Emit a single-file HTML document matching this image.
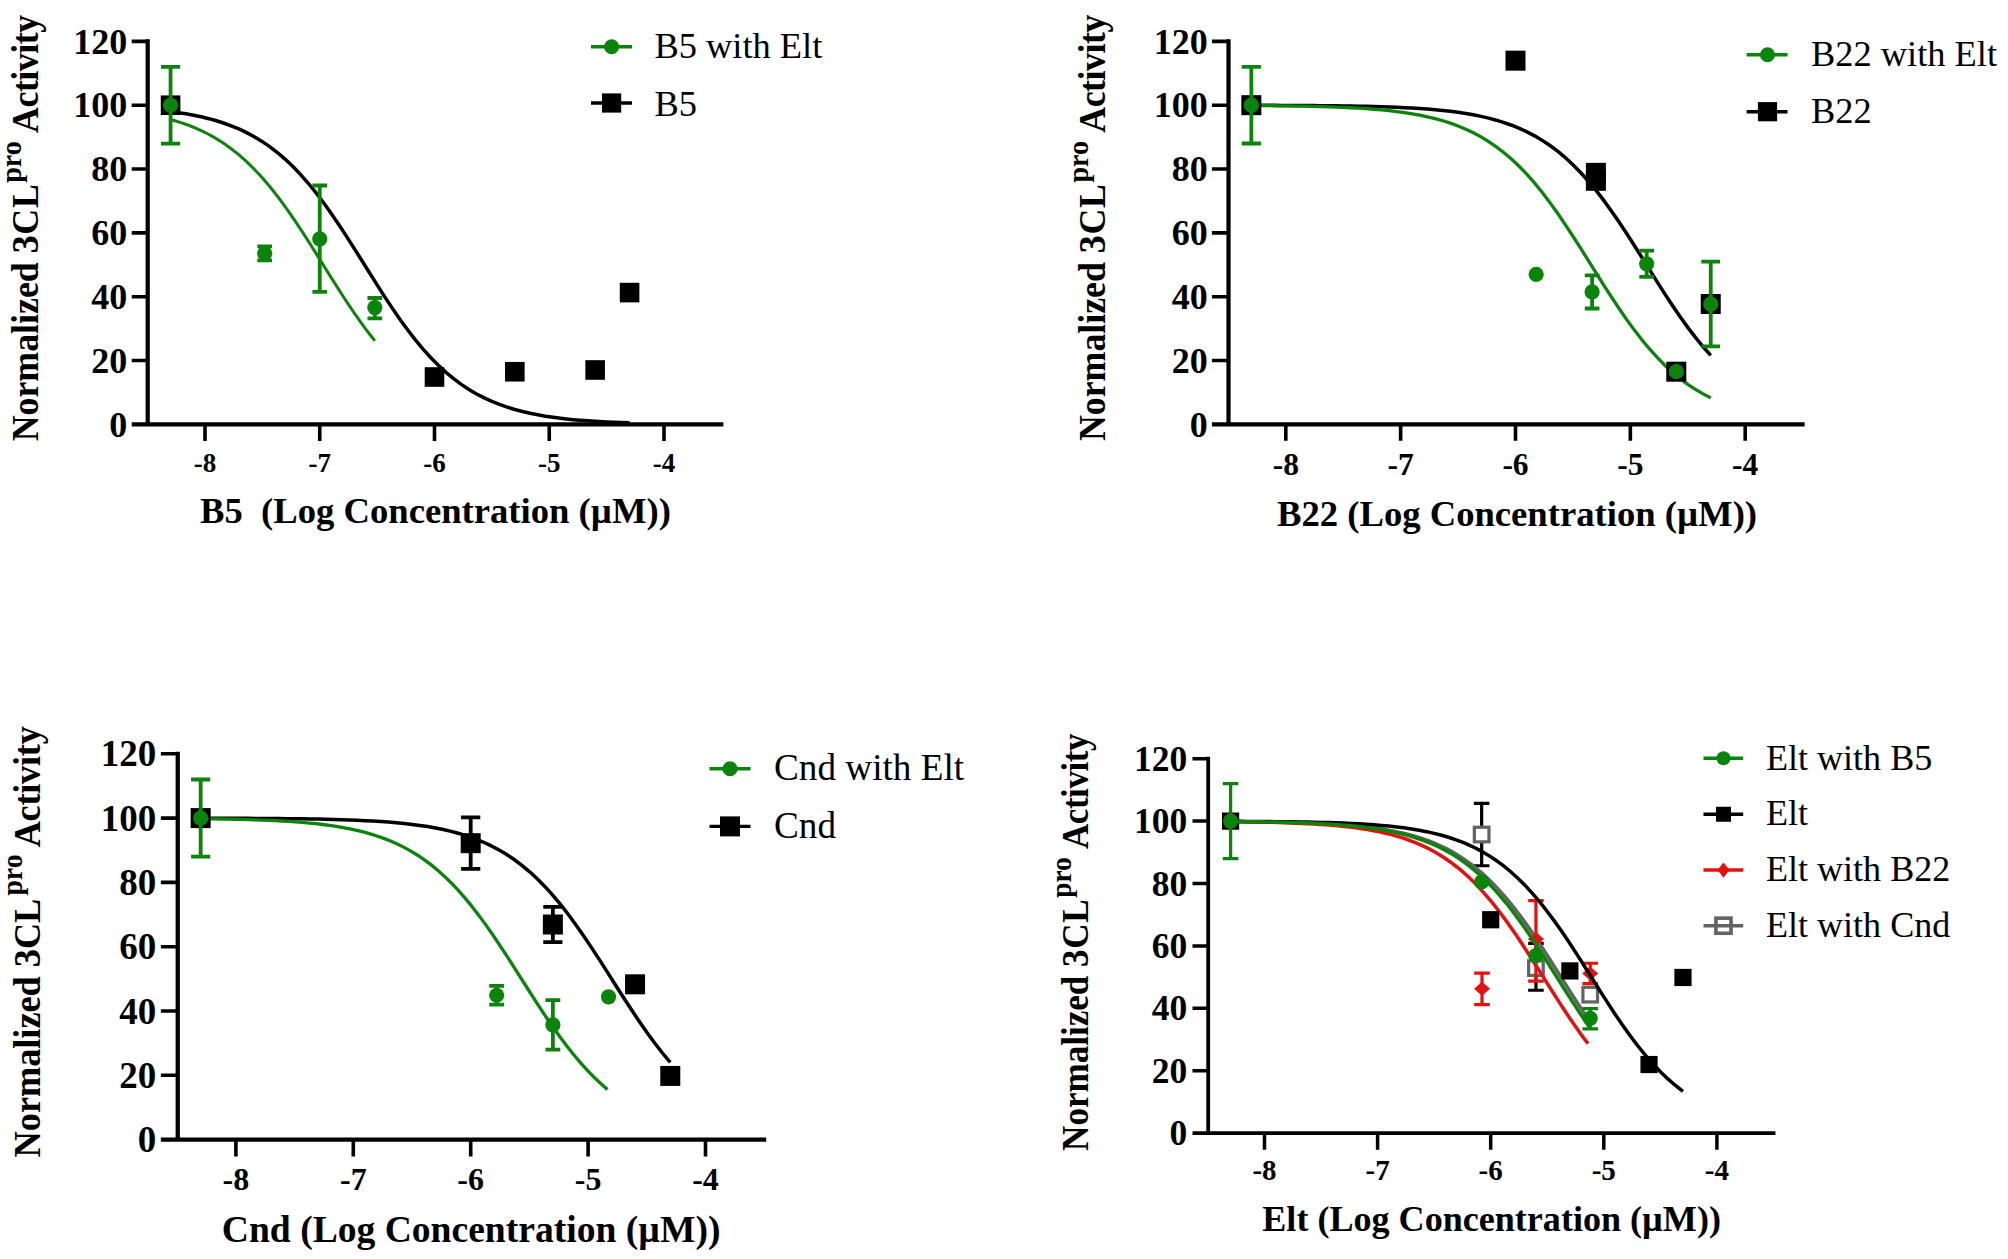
<!DOCTYPE html>
<html lang="en"><head><meta charset="utf-8"><title>3CLpro activity dose-response curves</title>
<style>html,body{margin:0;padding:0;background:#fff}svg{display:block}text{font-family:"Liberation Serif","Times New Roman",serif;fill:#000;white-space:pre}</style></head><body>
<svg width="2008" height="1259" viewBox="0 0 2008 1259">
<rect width="2008" height="1259" fill="#fff"/>
<g>
<path d="M147.7 39.3V426.5M131.7 424.4H723.38" stroke="#000" stroke-width="4.2" fill="none"/>
<path d="M131.7 360.57H147.7M131.7 296.73H147.7M131.7 232.9H147.7M131.7 169.06H147.7M131.7 105.23H147.7M131.7 41.4H147.7M205 424.4V440.9M319.75 424.4V440.9M434.5 424.4V440.9M549.25 424.4V440.9M664 424.4V440.9" stroke="#000" stroke-width="3.6" fill="none"/>
<g font-weight="bold" font-size="36" text-anchor="end">
<text x="127.3" y="436.57">0</text>
<text x="127.3" y="372.73">20</text>
<text x="127.3" y="308.9">40</text>
<text x="127.3" y="245.07">60</text>
<text x="127.3" y="181.23">80</text>
<text x="127.3" y="117.4">100</text>
<text x="127.3" y="53.56">120</text>
</g>
<g font-weight="bold" font-size="27" text-anchor="middle">
<text x="205" y="471.5">-8</text>
<text x="319.75" y="471.5">-7</text>
<text x="434.5" y="471.5">-6</text>
<text x="549.25" y="471.5">-5</text>
<text x="664" y="471.5">-4</text>
</g>
<text x="200" y="522.6" font-weight="bold" font-size="36.65" xml:space="preserve">B5  (Log Concentration (µM))</text>
<text transform="translate(38.2 441.3) rotate(-90) scale(0.9475 1)" font-weight="bold" font-size="37.8" xml:space="preserve">Normalized <tspan letter-spacing="0.8">3CL</tspan><tspan font-size="29.5" dx="0.8" dy="-17.2">pro</tspan><tspan dx="2" dy="17.2" letter-spacing="-0.5"> Activity</tspan></text>
<path d="M170.57 111.62L178.22 112.65L185.87 113.85L193.52 115.23L201.18 116.83L208.82 118.68L216.47 120.8L224.12 123.24L231.77 126.03L239.42 129.22L247.07 132.86L254.72 136.99L262.38 141.65L270.02 146.91L277.67 152.79L285.32 159.35L292.97 166.6L300.62 174.57L308.27 183.26L315.92 192.66L323.57 202.74L331.22 213.43L338.87 224.66L346.52 236.34L354.17 248.34L361.82 260.53L369.48 272.77L377.12 284.92L384.77 296.83L392.42 308.39L400.07 319.47L407.73 329.98L415.38 339.86L423.03 349.05L430.68 357.53L438.32 365.28L445.97 372.32L453.62 378.67L461.27 384.36L468.92 389.44L476.57 393.94L484.23 397.91L491.88 401.41L499.52 404.48L507.17 407.16L514.82 409.5L522.47 411.53L530.12 413.3L537.78 414.83L545.42 416.16L553.08 417.31L560.72 418.3L568.38 419.15L576.03 419.89L583.68 420.52L591.33 421.07L598.98 421.54L606.62 421.94L614.27 422.29L621.93 422.59L629.58 422.84" stroke="#000" stroke-width="3.5" fill="none" stroke-linecap="butt"/>
<path d="M170.57 119.49L173.98 120.45L177.38 121.47L180.79 122.56L184.19 123.71L187.6 124.94L191 126.24L194.4 127.62L197.81 129.09L201.21 130.64L204.62 132.28L208.02 134.02L211.43 135.86L214.83 137.81L218.23 139.86L221.64 142.03L225.04 144.31L228.45 146.71L231.85 149.24L235.26 151.9L238.66 154.69L242.06 157.61L245.47 160.67L248.87 163.87L252.28 167.21L255.68 170.69L259.09 174.32L262.49 178.09L265.89 182L269.3 186.05L272.7 190.25L276.11 194.57L279.51 199.03L282.92 203.62L286.32 208.33L289.72 213.15L293.13 218.09L296.53 223.12L299.94 228.24L303.34 233.44L306.75 238.72L310.15 244.05L313.55 249.43L316.96 254.85L320.36 260.28L323.77 265.73L327.17 271.18L330.57 276.61L333.98 282.02L337.38 287.38L340.79 292.7L344.19 297.95L347.6 303.13L351 308.22L354.4 313.22L357.81 318.11L361.21 322.9L364.62 327.57L368.02 332.11L371.43 336.53L374.83 340.81" stroke="#0b840b" stroke-width="3.0" fill="none" stroke-linecap="butt"/>
<rect x="160.77" y="95.43" width="19.6" height="19.6" fill="#000"/>
<rect x="424.7" y="367.2" width="19.6" height="19.6" fill="#000"/>
<rect x="505.03" y="361.94" width="19.6" height="19.6" fill="#000"/>
<rect x="585.35" y="360.18" width="19.6" height="19.6" fill="#000"/>
<rect x="619.78" y="282.78" width="19.6" height="19.6" fill="#000"/>
<path d="M170.57 66.93V143.53M160.97 66.93h19.2M160.97 143.53h19.2" stroke="#0b840b" stroke-width="3.8" fill="none"/>
<circle cx="170.57" cy="105.23" r="7.6" fill="#0b840b"/>
<path d="M264.67 246.3V260.35M257.32 246.3h14.7M257.32 260.35h14.7" stroke="#0b840b" stroke-width="3.8" fill="none"/>
<circle cx="264.67" cy="253.32" r="7.6" fill="#0b840b"/>
<path d="M319.75 185.5V291.78M312.4 185.5h14.7M312.4 291.78h14.7" stroke="#0b840b" stroke-width="3.8" fill="none"/>
<circle cx="319.75" cy="238.8" r="7.6" fill="#0b840b"/>
<path d="M374.83 298.01V318.44M367.48 298.01h14.7M367.48 318.44h14.7" stroke="#0b840b" stroke-width="3.8" fill="none"/>
<circle cx="374.83" cy="307.58" r="7.6" fill="#0b840b"/>
<path d="M591 46.75H632" stroke="#0b840b" stroke-width="3.4"/>
<circle cx="611.6" cy="46.75" r="7.5" fill="#0b840b"/>
<text x="654.5" y="58" font-size="36.4">B5 with Elt</text>
<path d="M591 103H632" stroke="#000" stroke-width="3.4"/>
<rect x="602" y="93.4" width="19.2" height="19.2" fill="#000"/>
<text x="654.5" y="115.5" font-size="36.4">B5</text>
</g>
<g>
<path d="M1228.5 39.25V426.45M1211.9 424.35H1804.62" stroke="#000" stroke-width="4.2" fill="none"/>
<path d="M1211.9 360.52H1228.5M1211.9 296.68H1228.5M1211.9 232.85H1228.5M1211.9 169.01H1228.5M1211.9 105.18H1228.5M1211.9 41.35H1228.5M1285.8 424.35V440.85M1400.65 424.35V440.85M1515.5 424.35V440.85M1630.35 424.35V440.85M1745.2 424.35V440.85" stroke="#000" stroke-width="3.6" fill="none"/>
<g font-weight="bold" font-size="36" text-anchor="end">
<text x="1207.8" y="436.52">0</text>
<text x="1207.8" y="372.68">20</text>
<text x="1207.8" y="308.85">40</text>
<text x="1207.8" y="245.02">60</text>
<text x="1207.8" y="181.18">80</text>
<text x="1207.8" y="117.35">100</text>
<text x="1207.8" y="53.51">120</text>
</g>
<g font-weight="bold" font-size="31.5" text-anchor="middle">
<text x="1285.8" y="475">-8</text>
<text x="1400.65" y="475">-7</text>
<text x="1515.5" y="475">-6</text>
<text x="1630.35" y="475">-5</text>
<text x="1745.2" y="475">-4</text>
</g>
<text x="1277" y="526.2" font-weight="bold" font-size="36.65" xml:space="preserve">B22 (Log Concentration (µM))</text>
<text transform="translate(1104.7 441.1) rotate(-90) scale(0.9475 1)" font-weight="bold" font-size="37.8" xml:space="preserve">Normalized <tspan letter-spacing="0.8">3CL</tspan><tspan font-size="29.5" dx="0.8" dy="-17.2">pro</tspan><tspan dx="2" dy="17.2" letter-spacing="-0.5"> Activity</tspan></text>
<path d="M1251.34 105.3L1259 105.32L1266.66 105.34L1274.31 105.36L1281.97 105.39L1289.63 105.43L1297.28 105.47L1304.94 105.52L1312.6 105.58L1320.25 105.64L1327.91 105.72L1335.57 105.81L1343.22 105.91L1350.88 106.03L1358.54 106.17L1366.19 106.33L1373.85 106.53L1381.51 106.75L1389.16 107.01L1396.82 107.31L1404.48 107.66L1412.13 108.06L1419.79 108.54L1427.45 109.09L1435.11 109.73L1442.76 110.47L1450.42 111.33L1458.07 112.33L1465.73 113.48L1473.39 114.82L1481.04 116.36L1488.7 118.14L1496.36 120.19L1504.01 122.55L1511.67 125.25L1519.33 128.34L1526.98 131.86L1534.64 135.86L1542.3 140.38L1549.95 145.49L1557.61 151.21L1565.27 157.59L1572.92 164.67L1580.58 172.46L1588.24 180.97L1595.89 190.2L1603.55 200.11L1611.21 210.65L1618.87 221.76L1626.52 233.33L1634.18 245.27L1641.84 257.42L1649.49 269.66L1657.15 281.85L1664.81 293.83L1672.46 305.49L1680.12 316.7L1687.77 327.36L1695.43 337.41L1703.09 346.77L1710.74 355.43" stroke="#000" stroke-width="3.5" fill="none" stroke-linecap="butt"/>
<path d="M1251.34 105.53L1259 105.59L1266.66 105.66L1274.31 105.74L1281.97 105.83L1289.63 105.94L1297.28 106.06L1304.94 106.21L1312.6 106.38L1320.25 106.58L1327.91 106.81L1335.57 107.08L1343.22 107.39L1350.88 107.75L1358.54 108.17L1366.19 108.67L1373.85 109.24L1381.51 109.9L1389.16 110.67L1396.82 111.56L1404.48 112.6L1412.13 113.79L1419.79 115.18L1427.45 116.78L1435.11 118.62L1442.76 120.74L1450.42 123.18L1458.07 125.97L1465.73 129.16L1473.39 132.79L1481.04 136.92L1488.7 141.58L1496.36 146.83L1504.01 152.71L1511.67 159.26L1519.33 166.51L1526.98 174.48L1534.64 183.17L1542.3 192.56L1549.95 202.63L1557.61 213.32L1565.27 224.56L1572.92 236.23L1580.58 248.23L1588.24 260.42L1595.89 272.66L1603.55 284.81L1611.21 296.72L1618.87 308.28L1626.52 319.37L1634.18 329.88L1641.84 339.76L1649.49 348.96L1657.15 357.44L1664.81 365.19L1672.46 372.24L1680.12 378.59L1687.77 384.28L1695.43 389.36L1703.09 393.86L1710.74 397.84" stroke="#0b840b" stroke-width="3.3" fill="none" stroke-linecap="butt"/>
<rect x="1241.34" y="95.18" width="20" height="20" fill="#000"/>
<rect x="1505.5" y="50.66" width="20" height="20" fill="#000"/>
<rect x="1585.89" y="162.84" width="20" height="20" fill="#000"/>
<rect x="1585.89" y="170.82" width="20" height="20" fill="#000"/>
<rect x="1666.29" y="361.69" width="20" height="20" fill="#000"/>
<rect x="1700.74" y="294.02" width="20" height="20" fill="#000"/>
<path d="M1251.34 66.88V143.48M1241.74 66.88h19.2M1241.74 143.48h19.2" stroke="#0b840b" stroke-width="3.8" fill="none"/>
<circle cx="1251.34" cy="105.18" r="7.6" fill="#0b840b"/>
<circle cx="1536.17" cy="274.34" r="7.6" fill="#0b840b"/>
<path d="M1592.1 275.3V308.49M1584.75 275.3h14.7M1584.75 308.49h14.7" stroke="#0b840b" stroke-width="3.8" fill="none"/>
<circle cx="1592.1" cy="291.89" r="7.6" fill="#0b840b"/>
<path d="M1646.66 250.72V276.89M1639.31 250.72h14.7M1639.31 276.89h14.7" stroke="#0b840b" stroke-width="3.8" fill="none"/>
<circle cx="1646.66" cy="263.81" r="7.6" fill="#0b840b"/>
<circle cx="1676.29" cy="371.69" r="7.6" fill="#0b840b"/>
<path d="M1710.74 261.57V346.47M1701.34 261.57h18.8M1701.34 346.47h18.8" stroke="#0b840b" stroke-width="3.8" fill="none"/>
<circle cx="1710.74" cy="304.02" r="7.6" fill="#0b840b"/>
<path d="M1746.6 54.7H1787.5" stroke="#0b840b" stroke-width="3.4"/>
<circle cx="1767.5" cy="54.7" r="7.5" fill="#0b840b"/>
<text x="1811" y="65.7" font-size="36.4">B22 with Elt</text>
<path d="M1746.6 111.7H1787.5" stroke="#000" stroke-width="3.4"/>
<rect x="1757.9" y="102.1" width="19.2" height="19.2" fill="#000"/>
<text x="1811" y="123" font-size="36.4">B22</text>
</g>
<g>
<path d="M177.75 751.65V1141.75M160.85 1139.6H766.2" stroke="#000" stroke-width="4.3" fill="none"/>
<path d="M160.85 1075.3H177.75M160.85 1011H177.75M160.85 946.7H177.75M160.85 882.4H177.75M160.85 818.1H177.75M160.85 753.8H177.75M235.9 1139.6V1156.6M353.3 1139.6V1156.6M470.7 1139.6V1156.6M588.1 1139.6V1156.6M705.5 1139.6V1156.6" stroke="#000" stroke-width="3.6" fill="none"/>
<g font-weight="bold" font-size="37" text-anchor="end">
<text x="156.2" y="1152.11">0</text>
<text x="156.2" y="1087.81">20</text>
<text x="156.2" y="1023.51">40</text>
<text x="156.2" y="959.21">60</text>
<text x="156.2" y="894.91">80</text>
<text x="156.2" y="830.61">100</text>
<text x="156.2" y="766.31">120</text>
</g>
<g font-weight="bold" font-size="32" text-anchor="middle">
<text x="235.9" y="1189.5">-8</text>
<text x="353.3" y="1189.5">-7</text>
<text x="470.7" y="1189.5">-6</text>
<text x="588.1" y="1189.5">-5</text>
<text x="705.5" y="1189.5">-4</text>
</g>
<text x="221.8" y="1241.8" font-weight="bold" font-size="37.6" xml:space="preserve">Cnd (Log Concentration (µM))</text>
<text transform="translate(39.6 1157.4) rotate(-90) scale(0.9415 1)" font-weight="bold" font-size="38.5" xml:space="preserve">Normalized <tspan letter-spacing="0">3CL</tspan><tspan font-size="29.5" dx="3.4" dy="-17.2">pro</tspan><tspan dx="0.3" dy="17.2" letter-spacing="-0.25"> Activity</tspan></text>
<path d="M200.68 818.2L208.51 818.22L216.33 818.24L224.16 818.26L231.99 818.29L239.81 818.32L247.64 818.36L255.47 818.4L263.29 818.45L271.12 818.5L278.95 818.57L286.77 818.65L294.6 818.74L302.43 818.85L310.25 818.97L318.08 819.11L325.91 819.28L333.73 819.48L341.56 819.7L349.39 819.97L357.21 820.28L365.04 820.63L372.87 821.05L380.69 821.53L388.52 822.1L396.35 822.75L404.17 823.51L412 824.39L419.83 825.41L427.65 826.59L435.48 827.96L443.31 829.53L451.13 831.35L458.96 833.44L466.79 835.85L474.61 838.61L482.44 841.76L490.27 845.35L498.09 849.43L505.92 854.05L513.75 859.25L521.57 865.08L529.4 871.58L537.23 878.78L545.05 886.69L552.88 895.34L560.71 904.7L568.53 914.75L576.36 925.44L584.19 936.68L592.01 948.38L599.84 960.42L607.67 972.68L615.49 985.02L623.32 997.28L631.15 1009.32L638.97 1021.02L646.8 1032.26L654.63 1042.95L662.45 1053L670.28 1062.36" stroke="#000" stroke-width="3.5" fill="none" stroke-linecap="butt"/>
<path d="M200.68 818.69L207.46 818.78L214.24 818.88L221.02 818.99L227.8 819.11L234.58 819.25L241.36 819.42L248.14 819.6L254.92 819.82L261.7 820.06L268.48 820.34L275.26 820.65L282.04 821.01L288.82 821.42L295.6 821.89L302.38 822.42L309.16 823.03L315.94 823.71L322.72 824.5L329.5 825.39L336.28 826.4L343.06 827.54L349.84 828.84L356.62 830.31L363.4 831.97L370.18 833.84L376.96 835.96L383.74 838.34L390.52 841.01L397.3 844.01L404.08 847.36L410.86 851.09L417.64 855.24L424.42 859.84L431.19 864.91L437.97 870.48L444.75 876.58L451.53 883.21L458.31 890.39L465.09 898.11L471.87 906.37L478.65 915.13L485.43 924.37L492.21 934.03L498.99 944.06L505.77 954.38L512.55 964.91L519.33 975.57L526.11 986.25L532.89 996.86L539.67 1007.32L546.45 1017.54L553.23 1027.44L560.01 1036.94L566.79 1046L573.57 1054.58L580.35 1062.63L587.13 1070.14L593.91 1077.11L600.69 1083.53L607.47 1089.42" stroke="#0b840b" stroke-width="3.3" fill="none" stroke-linecap="butt"/>
<rect x="190.68" y="808.1" width="20" height="20" fill="#000"/>
<path d="M470.7 817.46V868.9M461.1 817.46h19.2M461.1 868.9h19.2" stroke="#000" stroke-width="3.8" fill="none"/>
<rect x="460.7" y="833.18" width="20" height="20" fill="#000"/>
<path d="M552.88 906.83V942.2M543.28 906.83h19.2M543.28 942.2h19.2" stroke="#000" stroke-width="3.8" fill="none"/>
<rect x="542.88" y="914.52" width="20" height="20" fill="#000"/>
<rect x="625.06" y="974.32" width="20" height="20" fill="#000"/>
<rect x="660.28" y="1065.94" width="20" height="20" fill="#000"/>
<path d="M200.68 779.52V856.68M191.08 779.52h19.2M191.08 856.68h19.2" stroke="#0b840b" stroke-width="3.8" fill="none"/>
<circle cx="200.68" cy="818.1" r="7.6" fill="#0b840b"/>
<path d="M496.65 985.92V1004.57M489.25 985.92h14.8M489.25 1004.57h14.8" stroke="#0b840b" stroke-width="3.8" fill="none"/>
<circle cx="496.65" cy="995.25" r="7.6" fill="#0b840b"/>
<path d="M552.88 1000.07V1049.58M545.48 1000.07h14.8M545.48 1049.58h14.8" stroke="#0b840b" stroke-width="3.8" fill="none"/>
<circle cx="552.88" cy="1024.82" r="7.6" fill="#0b840b"/>
<circle cx="608.53" cy="996.85" r="7.6" fill="#0b840b"/>
<path d="M709.5 768.7H750.5" stroke="#0b840b" stroke-width="3.4"/>
<circle cx="730" cy="768.7" r="7.5" fill="#0b840b"/>
<text x="774" y="780.4" font-size="37.2">Cnd with Elt</text>
<path d="M709.5 826.4H750.5" stroke="#000" stroke-width="3.4"/>
<rect x="720" y="816.4" width="20" height="20" fill="#000"/>
<text x="774" y="837.9" font-size="37.2">Cnd</text>
</g>
<g>
<path d="M1208.2 756.8V1135.1M1192.5 1133.2H1775.45" stroke="#000" stroke-width="3.8" fill="none"/>
<path d="M1192.5 1070.78H1208.2M1192.5 1008.37H1208.2M1192.5 945.95H1208.2M1192.5 883.54H1208.2M1192.5 821.12H1208.2M1192.5 758.7H1208.2M1264.5 1133.2V1149.7M1377.6 1133.2V1149.7M1490.7 1133.2V1149.7M1603.8 1133.2V1149.7M1716.9 1133.2V1149.7" stroke="#000" stroke-width="3.5" fill="none"/>
<g font-weight="bold" font-size="35.5" text-anchor="end">
<text x="1187.3" y="1145.2">0</text>
<text x="1187.3" y="1082.78">20</text>
<text x="1187.3" y="1020.37">40</text>
<text x="1187.3" y="957.95">60</text>
<text x="1187.3" y="895.54">80</text>
<text x="1187.3" y="833.12">100</text>
<text x="1187.3" y="770.7">120</text>
</g>
<g font-weight="bold" font-size="29" text-anchor="middle">
<text x="1264.5" y="1180">-8</text>
<text x="1377.6" y="1180">-7</text>
<text x="1490.7" y="1180">-6</text>
<text x="1603.8" y="1180">-5</text>
<text x="1716.9" y="1180">-4</text>
</g>
<text x="1262.3" y="1231" font-weight="bold" font-size="36.1" xml:space="preserve">Elt (Log Concentration (µM))</text>
<text transform="translate(1088.2 1150.9) rotate(-90) scale(0.9276 1)" font-weight="bold" font-size="37.8" xml:space="preserve">Normalized <tspan letter-spacing="0.8">3CL</tspan><tspan font-size="29.5" dx="0.8" dy="-17.2">pro</tspan><tspan dx="2" dy="17.2" letter-spacing="-0.5"> Activity</tspan></text>
<path d="M1481.65 803.33V865.75M1473.85 803.33h15.6M1473.85 865.75h15.6" stroke="#000" stroke-width="3.2" fill="none"/>
<rect x="1474.35" y="827.24" width="14.6" height="14.6" fill="#fff" stroke="#636363" stroke-width="3.2"/>
<path d="M1535.94 943.46V990.27M1528.14 943.46h15.6M1528.14 990.27h15.6" stroke="#000" stroke-width="3.2" fill="none"/>
<rect x="1528.64" y="960.81" width="14.6" height="14.6" fill="#fff" stroke="#636363" stroke-width="3.2"/>
<rect x="1582.93" y="987.34" width="14.6" height="14.6" fill="#fff" stroke="#636363" stroke-width="3.2"/>
<path d="M1230.57 821.49L1236.56 821.54L1242.56 821.6L1248.55 821.66L1254.55 821.73L1260.54 821.81L1266.54 821.89L1272.53 822L1278.52 822.11L1284.52 822.24L1290.51 822.38L1296.51 822.54L1302.5 822.73L1308.5 822.93L1314.49 823.17L1320.48 823.43L1326.48 823.73L1332.47 824.07L1338.47 824.44L1344.46 824.87L1350.46 825.35L1356.45 825.89L1362.44 826.5L1368.44 827.18L1374.43 827.95L1380.43 828.82L1386.42 829.79L1392.42 830.88L1398.41 832.1L1404.4 833.47L1410.4 835L1416.39 836.72L1422.39 838.63L1428.38 840.76L1434.38 843.12L1440.37 845.76L1446.36 848.67L1452.36 851.89L1458.35 855.45L1464.35 859.36L1470.34 863.65L1476.34 868.33L1482.33 873.43L1488.32 878.96L1494.32 884.93L1500.31 891.35L1506.31 898.22L1512.3 905.52L1518.3 913.24L1524.29 921.35L1530.28 929.83L1536.28 938.63L1542.27 947.7L1548.27 956.97L1554.26 966.4L1560.26 975.9L1566.25 985.42L1572.25 994.87L1578.24 1004.19L1584.23 1013.32L1590.23 1022.19" stroke="#636363" stroke-width="3.5" fill="none" stroke-linecap="butt"/>
<path d="M1481.99 973.2V1004.72M1474.19 973.2h15.6M1474.19 1004.72h15.6" stroke="#e8100f" stroke-width="3.2" fill="none"/>
<path d="M1481.99 981.8L1489.99 988.8L1481.99 995.8L1473.99 988.8Z" fill="#e8100f"/>
<path d="M1535.94 900.7V981.22M1528.14 900.7h15.6M1528.14 981.22h15.6" stroke="#e8100f" stroke-width="3.2" fill="none"/>
<path d="M1535.94 932.09L1543.94 939.09L1535.94 946.09L1527.94 939.09Z" fill="#e8100f"/>
<path d="M1590.23 963.27V983.56M1582.43 963.27h15.6M1582.43 983.56h15.6" stroke="#e8100f" stroke-width="3.2" fill="none"/>
<path d="M1590.23 966.42L1598.23 973.42L1590.23 980.42L1582.23 973.42Z" fill="#e8100f"/>
<path d="M1230.57 821.66L1236.53 821.72L1242.48 821.8L1248.44 821.89L1254.4 821.99L1260.35 822.1L1266.31 822.23L1272.27 822.37L1278.22 822.53L1284.18 822.71L1290.14 822.91L1296.09 823.14L1302.05 823.4L1308.01 823.69L1313.96 824.02L1319.92 824.39L1325.88 824.81L1331.83 825.28L1337.79 825.8L1343.75 826.4L1349.7 827.07L1355.66 827.82L1361.62 828.66L1367.57 829.6L1373.53 830.66L1379.48 831.85L1385.44 833.18L1391.4 834.67L1397.35 836.33L1403.31 838.19L1409.27 840.25L1415.22 842.55L1421.18 845.1L1427.14 847.93L1433.09 851.05L1439.05 854.5L1445.01 858.29L1450.96 862.45L1456.92 866.99L1462.88 871.94L1468.83 877.32L1474.79 883.12L1480.75 889.37L1486.7 896.05L1492.66 903.18L1498.62 910.72L1504.57 918.66L1510.53 926.97L1516.49 935.61L1522.44 944.53L1528.4 953.69L1534.36 963.01L1540.31 972.43L1546.27 981.89L1552.23 991.31L1558.18 1000.63L1564.14 1009.79L1570.1 1018.71L1576.05 1027.35L1582.01 1035.66L1587.97 1043.6" stroke="#e8100f" stroke-width="3.5" fill="none" stroke-linecap="butt"/>
<path d="M1230.57 821.32L1238.11 821.35L1245.65 821.39L1253.19 821.44L1260.73 821.49L1268.27 821.55L1275.81 821.63L1283.35 821.71L1290.89 821.81L1298.43 821.92L1305.97 822.05L1313.51 822.21L1321.05 822.39L1328.59 822.6L1336.13 822.84L1343.67 823.12L1351.21 823.45L1358.75 823.84L1366.29 824.28L1373.83 824.8L1381.37 825.4L1388.91 826.1L1396.45 826.91L1403.99 827.85L1411.53 828.94L1419.07 830.2L1426.61 831.66L1434.15 833.34L1441.69 835.27L1449.23 837.5L1456.77 840.05L1464.31 842.97L1471.85 846.3L1479.39 850.09L1486.93 854.38L1494.47 859.23L1502.01 864.67L1509.55 870.75L1517.09 877.49L1524.63 884.93L1532.17 893.08L1539.71 901.93L1547.25 911.45L1554.79 921.62L1562.33 932.35L1569.87 943.56L1577.41 955.15L1584.95 966.99L1592.49 978.96L1600.03 990.9L1607.57 1002.68L1615.11 1014.17L1622.65 1025.25L1630.19 1035.82L1637.73 1045.79L1645.27 1055.12L1652.81 1063.76L1660.35 1071.69L1667.89 1078.92L1675.43 1085.46L1682.97 1091.35" stroke="#000" stroke-width="3.5" fill="none" stroke-linecap="butt"/>
<rect x="1221.97" y="812.52" width="17.2" height="17.2" fill="#000"/>
<rect x="1482.1" y="911.14" width="17.2" height="17.2" fill="#000"/>
<rect x="1561.27" y="962.32" width="17.2" height="17.2" fill="#000"/>
<rect x="1640.44" y="1055.94" width="17.2" height="17.2" fill="#000"/>
<rect x="1674.37" y="968.87" width="17.2" height="17.2" fill="#000"/>
<path d="M1230.57 821.53L1236.56 821.58L1242.56 821.64L1248.55 821.71L1254.55 821.78L1260.54 821.87L1266.54 821.96L1272.53 822.07L1278.52 822.2L1284.52 822.33L1290.51 822.49L1296.51 822.67L1302.5 822.87L1308.5 823.09L1314.49 823.35L1320.48 823.64L1326.48 823.96L1332.47 824.32L1338.47 824.74L1344.46 825.2L1350.46 825.72L1356.45 826.31L1362.44 826.97L1368.44 827.71L1374.43 828.55L1380.43 829.49L1386.42 830.54L1392.42 831.72L1398.41 833.04L1404.4 834.52L1410.4 836.18L1416.39 838.03L1422.39 840.09L1428.38 842.38L1434.38 844.93L1440.37 847.76L1446.36 850.89L1452.36 854.34L1458.35 858.14L1464.35 862.31L1470.34 866.87L1476.34 871.85L1482.33 877.25L1488.32 883.08L1494.32 889.37L1500.31 896.1L1506.31 903.27L1512.3 910.86L1518.3 918.86L1524.29 927.24L1530.28 935.94L1536.28 944.93L1542.27 954.15L1548.27 963.54L1554.26 973.03L1560.26 982.55L1566.25 992.03L1572.25 1001.39L1578.24 1010.59L1584.23 1019.54L1590.23 1028.21" stroke="#0b840b" stroke-width="3.5" fill="none" stroke-linecap="butt"/>
<path d="M1230.57 783.67V858.57M1222.77 783.67h15.6M1222.77 858.57h15.6" stroke="#0b840b" stroke-width="3.3" fill="none"/>
<circle cx="1230.57" cy="821.12" r="7.6" fill="#0b840b"/>
<circle cx="1481.65" cy="881.98" r="7.6" fill="#0b840b"/>
<circle cx="1535.94" cy="955.63" r="7.6" fill="#0b840b"/>
<path d="M1590.23 1008.68V1028.97M1582.43 1008.68h15.6M1582.43 1028.97h15.6" stroke="#0b840b" stroke-width="3.3" fill="none"/>
<circle cx="1590.23" cy="1018.35" r="7.6" fill="#0b840b"/>
<path d="M1703.5 758.25H1743.2" stroke="#0b840b" stroke-width="3.5"/>
<circle cx="1723.5" cy="758.25" r="7" fill="#0b840b"/>
<text x="1766" y="769.6" font-size="36.05">Elt with B5</text>
<path d="M1703.5 814.25H1743.2" stroke="#000" stroke-width="3.5"/>
<rect x="1716" y="806.75" width="15" height="15" fill="#000"/>
<text x="1766" y="825.1" font-size="36.05">Elt</text>
<path d="M1703.5 870.1H1743.2" stroke="#e8100f" stroke-width="3.5"/>
<path d="M1723.5 862.4L1729.5 870.1L1723.5 877.8L1717.5 870.1Z" fill="#e8100f"/>
<text x="1766" y="880.8" font-size="36.05">Elt with B22</text>
<path d="M1703.5 925.7H1743.2" stroke="#636363" stroke-width="3.5"/>
<rect x="1715.95" y="918.15" width="15.1" height="15.1" fill="none" stroke="#636363" stroke-width="3.6"/>
<text x="1766" y="937.2" font-size="36.05">Elt with Cnd</text>
</g>
</svg></body></html>
